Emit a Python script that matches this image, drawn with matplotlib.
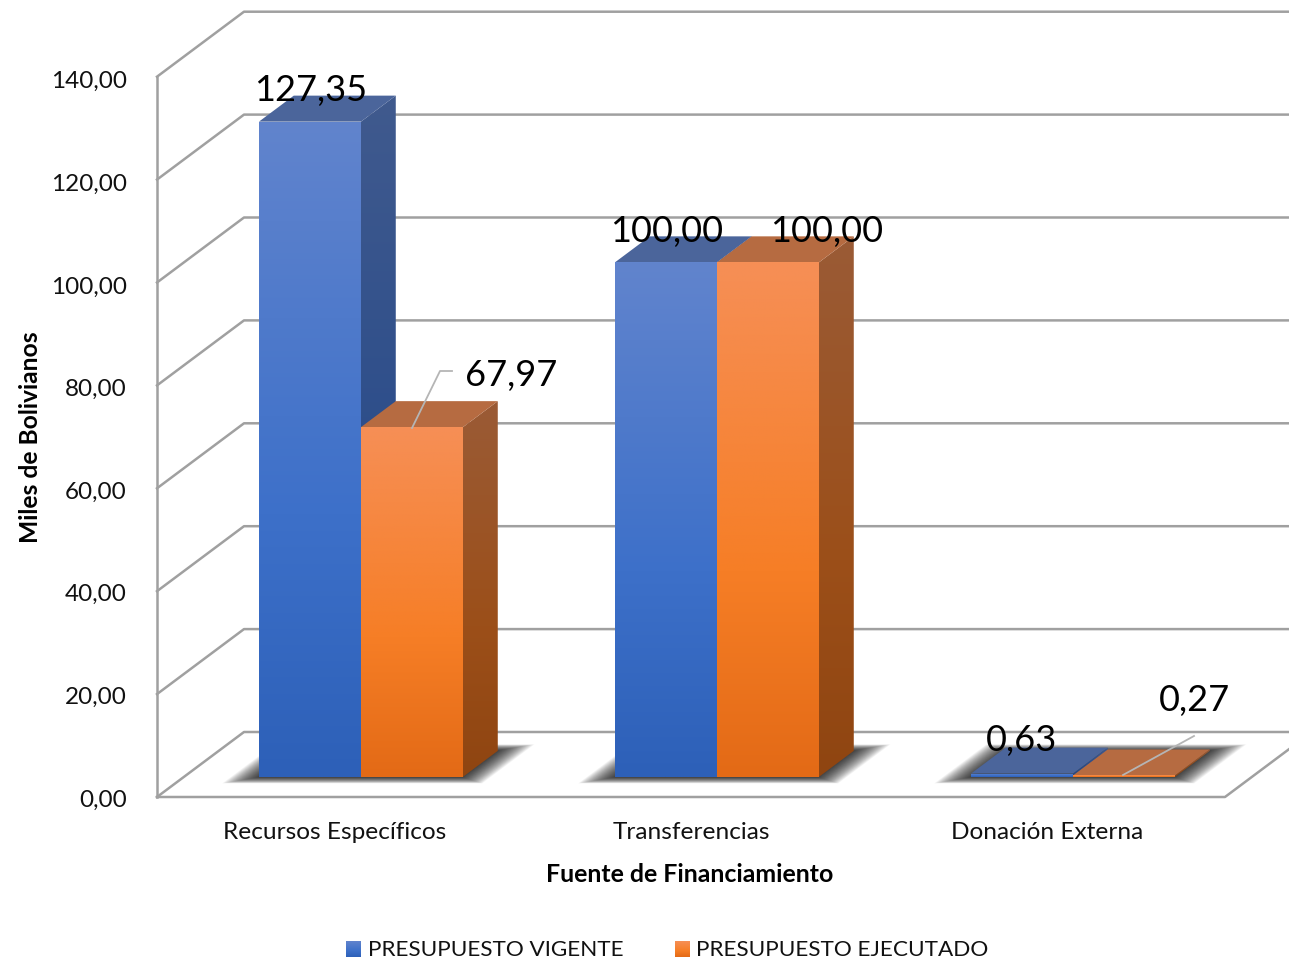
import numpy as np
import matplotlib
matplotlib.use('Agg')
import matplotlib.pyplot as plt
from matplotlib.colors import LinearSegmentedColormap
from matplotlib.patches import Polygon

categories = ['Recursos Específicos', 'Transferencias', 'Donación Externa']
vigente = [127.35, 100.00, 0.63]
ejecutado = [67.97, 100.00, 0.27]
series_names = ['PRESUPUESTO VIGENTE', 'PRESUPUESTO EJECUTADO']
y_ticks = [0, 20, 40, 60, 80, 100, 120, 140]

W, H = 1289, 961
X0, Y0 = 157, 797          # front left corner of the floor, in pixels
CAT_PX = 356               # pixels per category
VAL_PX = 5.145             # pixels per unit of value
WALL_DX, WALL_DY = 87, 65  # depth of the box in pixels
BAR_W = 102 / CAT_PX
BAR_D0, BAR_D1 = 0.31, 0.71
BAR_SHIFT = -1 / CAT_PX

BLUE = {'front': ['#6184cd', '#3d70c9', '#2d60b8'],
        'side': ['#405a8e', '#2a4c8a', '#25467f'],
        'top': '#4b659b'}
ORANGE = {'front': ['#f68f56', '#f67e26', '#e36a16'],
          'side': ['#9a5b36', '#9c4f19', '#8f4511'],
          'top': '#b66b41'}
GRID = '#a0a0a0'
FONT = 'Lato'

plt.rcParams['font.family'] = FONT
fig = plt.figure(figsize=(W / 100, H / 100), dpi=100)
ax = fig.add_axes([0, 0, 1, 1])
ax.set_xlim(-X0 / CAT_PX, (W - X0) / CAT_PX)
ax.set_ylim((Y0 - H) / VAL_PX, Y0 / VAL_PX)
ax.set_autoscale_on(False)
ax.axis('off')


def proj(x, v, d=0.0):
    # category position, value and depth (0 front, 1 back) to axes data
    return x + d * WALL_DX / CAT_PX, v + d * WALL_DY / VAL_PX


def from_px(px, py):
    return (px - X0) / CAT_PX, (Y0 - py) / VAL_PX


def gradient(verts, colors, z):
    cmap = LinearSegmentedColormap.from_list('g', list(zip([0, 0.6, 1], colors)))
    xs = [p[0] for p in verts]
    ys = [p[1] for p in verts]
    im = ax.imshow(np.linspace(0, 1, 256).reshape(-1, 1), cmap=cmap, aspect='auto',
                   extent=(min(xs), max(xs), min(ys), max(ys)), origin='upper', zorder=z)
    clip = Polygon(verts, closed=True, transform=ax.transData)
    im.set_clip_path(clip)


def draw_bar(x0, value, style, z):
    x1 = x0 + BAR_W
    front = [proj(x0, 0, BAR_D0), proj(x1, 0, BAR_D0), proj(x1, value, BAR_D0), proj(x0, value, BAR_D0)]
    side = [proj(x1, 0, BAR_D0), proj(x1, 0, BAR_D1), proj(x1, value, BAR_D1), proj(x1, value, BAR_D0)]
    top = [proj(x0, value, BAR_D0), proj(x1, value, BAR_D0), proj(x1, value, BAR_D1), proj(x0, value, BAR_D1)]
    gradient(side, style['side'], z)
    ax.add_patch(Polygon(top, closed=True, fc=style['top'], ec='none', zorder=z + 0.1))
    gradient(front, style['front'], z + 0.2)


def draw_shadow(x0, x1):
    # soft shadow on the floor, wider sideways than in depth
    for t in np.linspace(1, 0, 32):
        ex = (t * 30 - 2) / CAT_PX
        ey = t * 0.1
        poly = [proj(x0 - ex, 0, BAR_D0 - ey), proj(x1 + ex, 0, BAR_D0 - ey),
                proj(x1 + ex, 0, BAR_D1 + ey), proj(x0 - ex, 0, BAR_D1 + ey)]
        ax.add_patch(Polygon(poly, closed=True, fc='black', ec='none', alpha=0.04, zorder=1.5))


# walls and floor
xr = (W + 60 - X0) / CAT_PX
for v in y_ticks:
    bx, by = proj(0, v, 1)
    ax.plot([0, bx, xr], [v, by, by], color=GRID, lw=1.8, zorder=1)
ax.plot([0, 0], [0, 140], color=GRID, lw=1.8, zorder=1)
n = len(categories)
bx, by = proj(n, 0, 1)
ax.plot([0, n, bx], [0, 0, by], color=GRID, lw=1.8, zorder=1)

# bars
for i in range(n):
    left = i + 0.5 - BAR_W + BAR_SHIFT
    draw_shadow(left, left + 2 * BAR_W)
    draw_bar(left, vigente[i], BLUE, 2)
    draw_bar(left + BAR_W, ejecutado[i], ORANGE, 3)

# tick and axis labels
for v in y_ticks:
    x, y = from_px(127, 800 - v * 5.13)
    ax.text(x, y, f'{v:.2f}'.replace('.', ','), ha='right', va='center', fontsize=17.5, color='#111111')
for i, c in enumerate(categories):
    x, y = from_px(0, 832.5)
    ax.text(i + 0.5, y, c, ha='center', va='center', fontsize=17.6, color='#111111')
x, y = from_px(690, 874.5)
ax.text(x, y, 'Fuente de Financiamiento', ha='center', va='center', fontsize=17.9, fontweight='bold')
x, y = from_px(31, 437)
ax.text(x, y, 'Miles de Bolivianos', ha='center', va='center', rotation=90, fontsize=17.7, fontweight='bold')

# data labels
label_px = [[(311, 91), (667, 232), (1022, 741)], [(511, 376), (827, 232), (1194, 701)]]
for values, places in zip([vigente, ejecutado], label_px):
    for v, (px, py) in zip(values, places):
        x, y = from_px(px, py)
        ax.text(x, y, f'{v:.2f}'.replace('.', ','), ha='center', va='center', fontsize=26,
                color='black', zorder=6)

# leader lines
for pts in [[(412, 428), (440, 371), (452, 371)], [(1123, 775), (1194, 736)]]:
    xy = [from_px(*p) for p in pts]
    ax.plot([p[0] for p in xy], [p[1] for p in xy], color='#b5b5b5', lw=1.3, zorder=5)

# legend
for name, style, sx, tx in zip(series_names, [BLUE, ORANGE], [346, 675], [368, 696]):
    a = from_px(sx, 957)
    b = from_px(sx + 15, 941)
    gradient([a, (b[0], a[1]), b, (a[0], b[1])], style['front'], 4)
    x, y = from_px(tx, 950)
    ax.text(x, y, name, ha='left', va='center', fontsize=16.2, color='#111111')

fig.savefig('out.png', dpi=100)
